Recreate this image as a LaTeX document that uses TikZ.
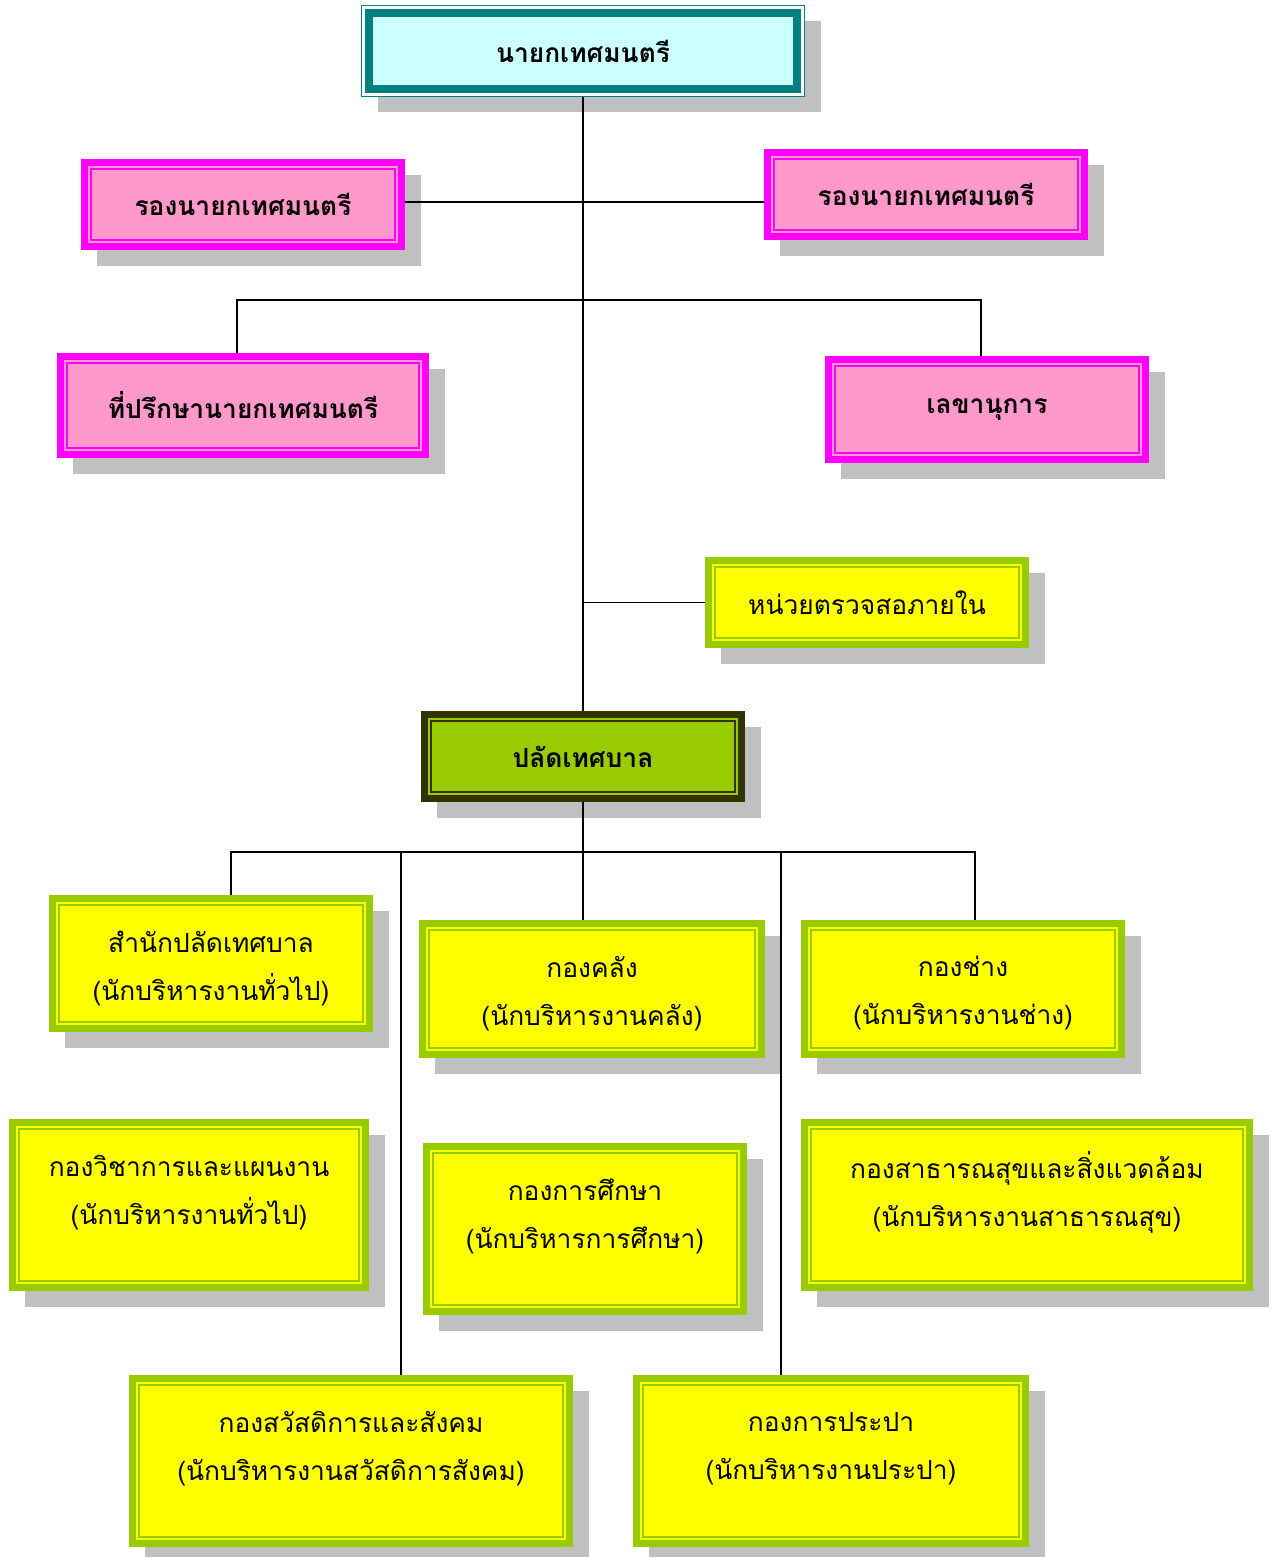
\documentclass[tikz,border=0pt]{standalone}
\usepackage{fontspec}
\newfontfamily\thai[Script=Thai]{Loma}
\usepackage{xcolor}
\usepackage{tikz}
\usetikzlibrary{shadows}
\definecolor{tealline}{HTML}{008080}
\definecolor{aqua}{HTML}{ccffff}
\definecolor{magline}{HTML}{ff00ff}
\definecolor{rose}{HTML}{ff99cc}
\definecolor{leaf}{HTML}{99cc00}
\definecolor{lemon}{HTML}{ffff00}
\definecolor{darkolive}{HTML}{333300}
\definecolor{shadowgray}{HTML}{c0c0c0}

\begin{document}
\begin{tikzpicture}[x=0.02cm, y=-0.02cm,
  sz/.style 2 args={minimum width=#1*0.02cm-4pt, minimum height=#2*0.02cm-4pt},
  box/.style={rectangle, inner sep=0pt, line width=4pt,
              drop shadow={shadow xshift=0.32cm, shadow yshift=-0.32cm, opacity=1,
                           fill=shadowgray, draw=shadowgray, line width=4pt}},
  inline/.style={path picture={\draw[#1, line width=0.85pt]
      ([shift={(0.13cm,0.13cm)}]path picture bounding box.south west) rectangle
      ([shift={(-0.13cm,-0.13cm)}]path picture bounding box.north east);}},
  topbox/.style={rectangle, inner sep=0pt, draw=tealline, line width=0.6pt, fill=white,
              drop shadow={shadow xshift=0.32cm, shadow yshift=-0.32cm, opacity=1, fill=shadowgray},
              path picture={
      \fill[tealline] ([shift={(0.07cm,0.07cm)}]path picture bounding box.south west) rectangle
                      ([shift={(-0.07cm,-0.07cm)}]path picture bounding box.north east);
      \fill[aqua] ([shift={(0.23cm,0.23cm)}]path picture bounding box.south west) rectangle
                  ([shift={(-0.23cm,-0.23cm)}]path picture bounding box.north east);},
              font=\thai\bfseries\fontsize{15}{18}\selectfont},
  pbox/.style={box, draw=magline, fill=rose, inline=magline,
               font=\thai\bfseries\fontsize{15}{18}\selectfont},
  gbox/.style={box, draw=darkolive, fill=leaf, inline=darkolive,
               font=\thai\bfseries\fontsize{15}{18}\selectfont},
  ybox/.style={box, draw=leaf, fill=lemon, inline=leaf,
               font=\thai\fontsize{15}{18}\selectfont},
  txt/.style={align=center, inner sep=0pt, font=\thai\fontsize{15}{27.3}\selectfont},
  link/.style={line width=1.1pt, color=black},
]
  \useasboundingbox (0,0) rectangle (1278,1557);

  % upper level
  \node[topbox, minimum width=443*0.02cm, minimum height=91*0.02cm] (mayor) at (583,51) {นายกเทศมนตรี};
  \node[pbox, sz={324}{91}] (depl) at (243,204.5) {รองนายกเทศมนตรี};
  \node[pbox, sz={324}{91}] (depr) at (926,194.5) {รองนายกเทศมนตรี};
  \node[pbox, sz={372}{105}] (adv) at (243,405.5) {ที่ปรึกษานายกเทศมนตรี};
  \node[pbox, sz={324}{107}] (sec) at (987,409.5) {เลขานุการ};
  \node[ybox, sz={324}{91}] (audit) at (867,602.5) {หน่วยตรวจสอภายใน};
  \node[gbox, sz={324}{91}] (palad) at (583,756.5) {ปลัดเทศบาล};

  % divisions
  \node[ybox, sz={324}{137}] (sp) at (211,963.5) {};
  \node[ybox, sz={346}{138}] (kl) at (592,989) {};
  \node[ybox, sz={324}{138}] (ch) at (963,989) {};
  \node[ybox, sz={360}{172}] (wc) at (189,1205) {};
  \node[ybox, sz={324}{172}] (ks) at (585,1229) {};
  \node[ybox, sz={452}{172}] (sa) at (1027,1205) {};
  \node[ybox, sz={444}{172}] (sw) at (351,1461) {};
  \node[ybox, sz={396}{172}] (pp) at (831,1461) {};

  \node[txt] (sp-t) at ([yshift=-1.47cm]sp.north) {สำนักปลัดเทศบาล\\(นักบริหารงานทั่วไป)};
  \node[txt] (kl-t) at ([yshift=-1.47cm]kl.north) {กองคลัง\\(นักบริหารงานคลัง)};
  \node[txt] (ch-t) at ([yshift=-1.47cm]ch.north) {กองช่าง\\(นักบริหารงานช่าง)};
  \node[txt] (wc-t) at ([yshift=-1.47cm]wc.north) {กองวิชาการและแผนงาน\\(นักบริหารงานทั่วไป)};
  \node[txt] (ks-t) at ([yshift=-1.47cm]ks.north) {กองการศึกษา\\(นักบริหารการศึกษา)};
  \node[txt] (sa-t) at ([yshift=-1.47cm]sa.north) {กองสาธารณสุขและสิ่งแวดล้อม\\(นักบริหารงานสาธารณสุข)};
  \node[txt] (sw-t) at ([yshift=-1.47cm]sw.north) {กองสวัสดิการและสังคม\\(นักบริหารงานสวัสดิการสังคม)};
  \node[txt] (pp-t) at ([yshift=-1.47cm]pp.north) {กองการประปา\\(นักบริหารงานประปา)};

  % connectors
  \coordinate (jdep) at (583,202);
  \coordinate (jadv) at (237,300);
  \coordinate (jsec) at (981,300);
  \coordinate (bus) at (583,852);
  \coordinate (t1) at (231,852);
  \coordinate (t2) at (401,852);
  \coordinate (t4) at (781,852);
  \coordinate (t5) at (975,852);
  \draw[link] (mayor.south) -- (palad.north);
  \draw[link] (jdep -| depl.east) -- (jdep -| depr.west);
  \draw[link] (jadv |- adv.north) -- (jadv) -- (jsec) -- (jsec |- sec.north);
  \draw[link] (audit.west) -- (audit.west -| palad.north);
  \draw[link] (palad.south) -- (bus);
  \draw[link] (t1 |- sp.north) -- (t1) -- (t5) -- (t5 |- ch.north);
  \draw[link] (bus) -- (bus |- kl.north);
  \draw[link] (t2) -- (t2 |- sw.north);
  \draw[link] (t4) -- (t4 |- pp.north);
\end{tikzpicture}
\end{document}
